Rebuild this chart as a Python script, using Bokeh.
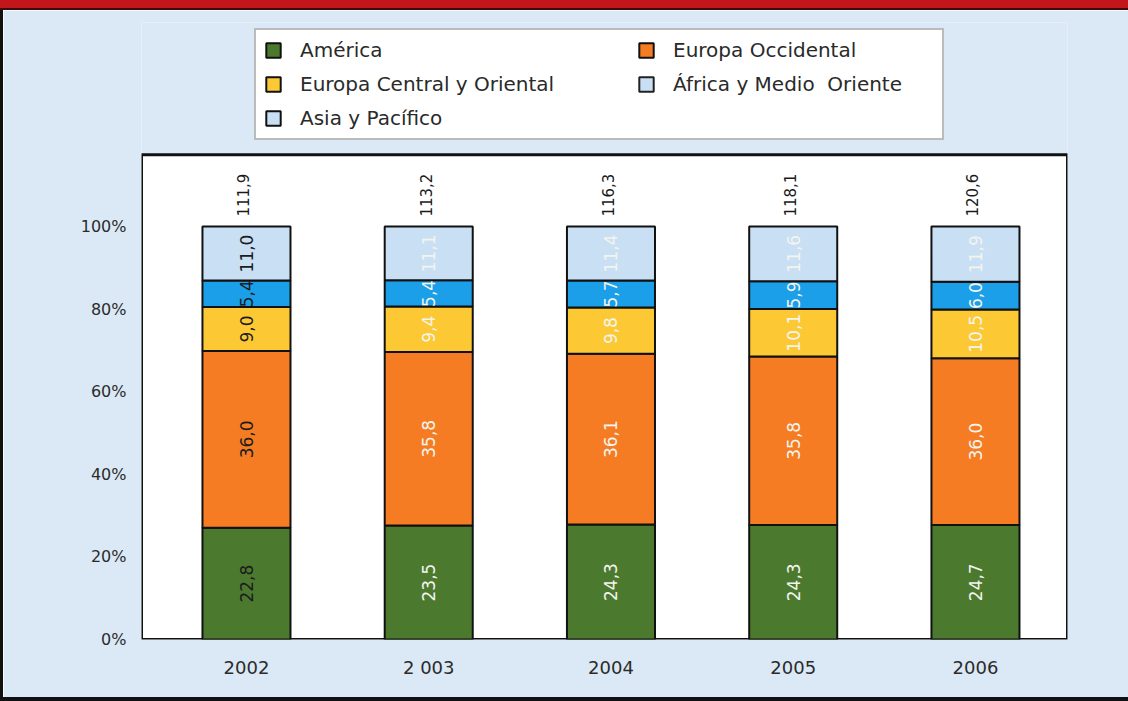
import numpy as np
from bokeh.plotting import figure
from bokeh.layouts import column, row
from bokeh.models import (ColumnDataSource, Legend, LegendItem, FixedTicker,
                          PrintfTickFormatter, Range1d, BoxAnnotation, Div)
from bokeh.core.properties import value
from bokeh.embed import file_html
from bokeh.resources import INLINE

# ---------------- data ----------------
years = ["2002", "2 003", "2004", "2005", "2006"]
totals = [111.9, 113.2, 116.3, 118.1, 120.6]
america = [22.8, 23.5, 24.3, 24.3, 24.7]
europa_occidental = [36.0, 35.8, 36.1, 35.8, 36.0]
europa_central = [9.0, 9.4, 9.8, 10.1, 10.5]
africa_medio_oriente = [5.4, 5.4, 5.7, 5.9, 6.0]
asia_pacifico = [11.0, 11.1, 11.4, 11.6, 11.9]
series_names = ["América", "Europa Occidental", "Europa Central y Oriental",
                "África y Medio  Oriente", "Asia y Pacífico"]

# ---------------- styles ----------------
colors = ["#4b7a2e", "#f57c22", "#fcc935", "#1a9fe8", "#c9dff4"]
legend_colors = ["#4b7a2e", "#f57c22", "#fcc935", "#c9dff4", "#c9dff4"]
label_colors = ["#1c1c1c", "#f4f4ee", "#f4f4ee", "#f4f4ee", "#f4f4ee"]
FONT = value("DejaVu Sans")
BG = "#dbe9f6"

series = [america, europa_occidental, europa_central, africa_medio_oriente, asia_pacifico]
vals = np.array(series, dtype=float)
shares = vals / vals.sum(axis=0) * 100.0
tops = np.cumsum(shares, axis=0)
bottoms = tops - shares

def fmt(v):
    return f"{v:.1f}".replace(".", ",")

xs = list(range(len(years)))
data = dict(x=xs, lc=label_colors, tot=[fmt(t) for t in totals])
for k in range(len(series)):
    data[f"b{k}"] = bottoms[k]
    data[f"t{k}"] = tops[k]
    data[f"m{k}"] = (bottoms[k] + tops[k]) / 2
    data[f"l{k}"] = [fmt(v) for v in series[k]]
src = ColumnDataSource(data)

PLOT_TOP = 117.4  # top of the white plotting box, in %

p = figure(width=1125, height=687,
           x_range=Range1d(-0.576, 4.505), y_range=Range1d(0, 149.4),
           output_backend="svg", toolbar_location=None,
           min_border_left=138, min_border_right=61,
           min_border_top=12, min_border_bottom=58, margin=0)
p.background_fill_color = BG
p.border_fill_color = BG
p.outline_line_color = None
p.xgrid.grid_line_color = None
p.ygrid.grid_line_color = None

# white plotting box with black frame
p.add_layout(BoxAnnotation(bottom=0, top=PLOT_TOP, fill_color="white", fill_alpha=1.0,
                           line_color="#111111", line_alpha=1.0, line_width=3,
                           level="underlay"))

# swatch proxy for the legend entry printed in pale blue (zero height, sits on a bar edge)
africa_proxy = p.vbar(x="x", width=0.483, bottom="b3", top="b3", source=src,
                      fill_color=legend_colors[3], line_color="#222222", line_width=2)

renderers = []
for k in range(len(series)):
    r = p.vbar(x="x", width=0.483, bottom=f"b{k}", top=f"t{k}", source=src,
               fill_color=colors[k], line_color="#111111", line_width=2)
    renderers.append(r)
    p.text(x="x", y=f"m{k}", text=f"l{k}", source=src, angle=np.pi / 2,
           text_align="center", text_baseline="middle", text_color="lc",
           text_font=FONT, text_font_size="17px")

p.text(x="x", y=102.4, text="tot", source=src, angle=np.pi / 2,
       text_align="left", text_baseline="middle", text_color="#1a1a1a",
       text_font=FONT, text_font_size="15px", x_offset=-3)

# axes
p.xaxis.ticker = FixedTicker(ticks=xs)
p.xaxis.major_label_overrides = {i: y for i, y in enumerate(years)}
p.yaxis.ticker = FixedTicker(ticks=[0, 20, 40, 60, 80, 100])
p.yaxis.formatter = PrintfTickFormatter(format="%d%%")
for ax in (p.xaxis, p.yaxis):
    ax.axis_line_color = None
    ax.major_tick_line_color = None
    ax.minor_tick_line_color = None
    ax.major_tick_out = 0
    ax.major_tick_in = 0
    ax.major_label_text_font = "DejaVu Sans"
    ax.major_label_text_color = "#2b2b2b"
p.yaxis.major_label_text_font_size = "16px"
p.yaxis.major_label_standoff = 15
p.xaxis.major_label_text_font_size = "18px"
p.xaxis.major_label_standoff = 17

common = dict(glyph_width=18, glyph_height=18, label_height=22, spacing=10,
              padding=8, label_standoff=18, label_text_font="DejaVu Sans",
              label_text_font_size="20px", label_text_color="#2a2a2a",
              orientation="vertical")
leg1 = Legend(items=[LegendItem(label=series_names[0], renderers=[renderers[0]]),
                     LegendItem(label=series_names[2], renderers=[renderers[2]]),
                     LegendItem(label=series_names[4], renderers=[renderers[4]])],
              location=(113, 499), label_width=634,
              border_line_color="#777777", border_line_width=2,
              background_fill_color="white", background_fill_alpha=1.0,
              **common)
leg2 = Legend(items=[LegendItem(label=series_names[1], renderers=[renderers[1]]),
                     LegendItem(label=series_names[3], renderers=[africa_proxy])],
              location=(496, 543), border_line_color=None,
              background_fill_alpha=0.0, **common)
p.add_layout(leg1)
p.add_layout(leg2)

banner = Div(text="", width=1128, height=10, margin=0,
             styles={"background-color": "#c3161c", "border-bottom": "2px solid #3a0d0d",
                     "box-sizing": "border-box"})
left_edge = Div(text="", width=3, height=687, margin=0,
                styles={"background-color": "#111111"})
bottom_edge = Div(text="", width=1128, height=4, margin=0,
                  styles={"background-color": "#111111"})
layout = column(banner, row(left_edge, p, spacing=0), bottom_edge, spacing=0)

open("out.html", "w").write(file_html(layout, INLINE))
